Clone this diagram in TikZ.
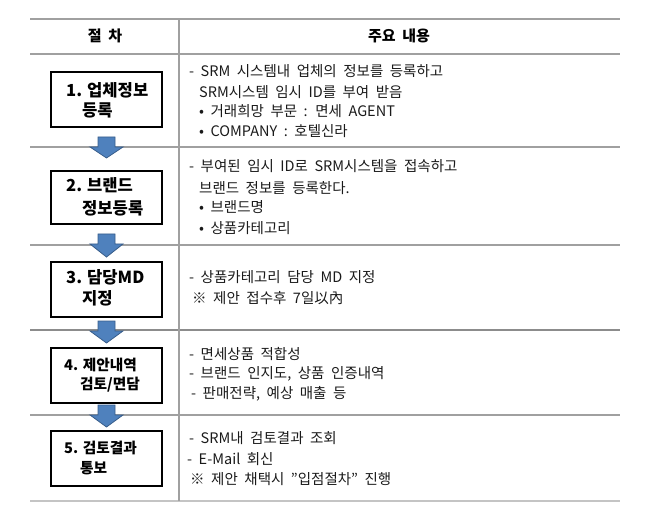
\documentclass[tikz,border=0pt]{standalone}
\usepackage{fontspec}
\setmainfont{Noto Sans CJK KR}
\usetikzlibrary{calc}
\definecolor{rulegray}{HTML}{A0A0A0}
\definecolor{rulelight}{HTML}{C4C4C4}
\definecolor{arrowfill}{HTML}{4F81BD}
\definecolor{arrowline}{HTML}{385D8A}
\definecolor{txtcol}{HTML}{1A1A1A}
\newcommand\myheadfont{\fontsize{15bp}{17bp}\selectfont\bfseries\spaceskip=0.45em plus 0pt minus 0pt\relax}
\newcommand\mybodyfont{\fontsize{14.5bp}{16bp}\selectfont\spaceskip=0.45em plus 0pt minus 0pt\relax}
\tikzset{
  rule/.style={draw=rulegray, line width=1.2bp},
  stepbox/.style={draw=black, line width=1.1bp, rectangle, minimum width=111bp, inner sep=0pt},
  boxtxt/.style={anchor=west, inner sep=0pt, font=\fontsize{16.6bp}{18bp}\selectfont\bfseries},
  boxtxtsm/.style={anchor=west, inner sep=0pt, font=\fontsize{14.7bp}{17bp}\selectfont\bfseries},
  headtxt/.style={inner sep=0pt, font=\myheadfont},
  body/.style={anchor=west, inner sep=0pt, text=txtcol, font=\mybodyfont},
  blockarrow/.style={fill=arrowfill, draw=arrowline, line width=0.8bp, line join=miter}
}
\newcommand\downblock[2]{% #1 = name of top coordinate
  \path[blockarrow] ($(#1)+(-8.5,0)$) -- ($(#1)+(8.5,0)$) -- ($(#1)+(8.5,10)$) -- ($(#1)+(16.5,10)$)
     -- ($(#1)+(0,#2)$) -- ($(#1)+(-16.5,10)$) -- ($(#1)+(-8.5,10)$) -- cycle;}
\begin{document}
\begin{tikzpicture}[x=1bp,y=-1bp]
\useasboundingbox (0,0) rectangle (665,524);
% table rules
\coordinate (tl) at (30,19);
\coordinate (tr) at (620,19);
\draw[rule] (tl) -- (tr);
\draw[rule] (30,54) -- (620,54);
\draw[rule] (30,147) -- (620,147);
\draw[rule] (30,245) -- (620,245);
\draw[rule, draw=gray!90] (30,330) -- (620,330);
\draw[rule] (30,415) -- (620,415);
\draw[draw=rulelight, line width=2.2bp] (30,501) -- (620,501);
\draw[rule] (179,19) -- (179,501);
% header
\node[headtxt] (h1) at (105,36) {절 차};
\node[headtxt] (h2) at (399,36) {주요 내용};
% boxes
\node[stepbox, minimum height=55bp] (b1) at (106.5,99.5) {};
\node[stepbox, minimum height=53bp] (b2) at (106.5,197.5) {};
\node[stepbox, minimum height=55bp] (b3) at (106.5,289.5) {};
\node[stepbox, minimum height=55bp] (b4) at (106.5,375.5) {};
\node[stepbox, minimum height=55bp] (b5) at (106.5,458.5) {};
\node[boxtxt] (b1a) at (66,90) {1. 업체정보};
\node[boxtxt] (b1b) at (82,110) {등록};
\node[boxtxt] (b2a) at (66,185) {2. 브랜드};
\node[boxtxt] (b2b) at (82,208) {정보등록};
\node[boxtxt] (b3a) at (66,277) {3. 담당MD};
\node[boxtxt] (b3b) at (82,298) {지정};
\node[boxtxtsm] (b4a) at (64,365) {4. 제안내역};
\node[boxtxtsm] (b4b) at (80,385) {검토/면담};
\node[boxtxtsm] (b5a) at (64,448) {5. 검토결과};
\node[boxtxtsm] (b5b) at (80,468) {통보};
% arrows
\coordinate (a1) at (106.5,137);
\coordinate (a2) at (106.5,234);
\coordinate (a3) at (106.5,321);
\coordinate (a4) at (106.5,405);
\downblock{a1}{21}
\downblock{a2}{23}
\downblock{a3}{22}
\downblock{a4}{22}
% row 1
\node[body] (r1a) at (189,71) {- SRM 시스템내 업체의 정보를 등록하고};
\node[body] (r1b) at (199,92) {SRM시스템 임시 ID를 부여 받음};
\node[body] (r1c) at (199,111) {• 거래희망 부문 : 면세 AGENT};
\node[body] (r1d) at (199,131) {• COMPANY : 호텔신라};
% row 2
\node[body] (r2a) at (189,166) {- 부여된 임시 ID로 SRM시스템을 접속하고};
\node[body] (r2b) at (199,188) {브랜드 정보를 등록한다.};
\node[body] (r2c) at (199,207) {• 브랜드명};
\node[body] (r2d) at (199,228) {• 상품카테고리};
% row 3
\node[body] (r3a) at (189,277) {- 상품카테고리 담당 MD 지정};
\node[body] (r3b) at (192,298) {※ 제안 접수후 7일以內};
% row 4
\node[body] (r4a) at (189,354) {- 면세상품 적합성};
\node[body] (r4b) at (189,374) {- 브랜드 인지도, 상품 인증내역};
\node[body] (r4c) at (191,394) {- 판매전략, 예상 매출 등};
% row 5
\node[body] (r5a) at (189,438) {- SRM내 검토결과 조회};
\node[body] (r5b) at (187,459) {- E-Mail 회신};
\node[body] (r5c) at (190,479) {※ 제안 채택시 \char"22 입점절차\char"22{} 진행};
\end{tikzpicture}
\end{document}
